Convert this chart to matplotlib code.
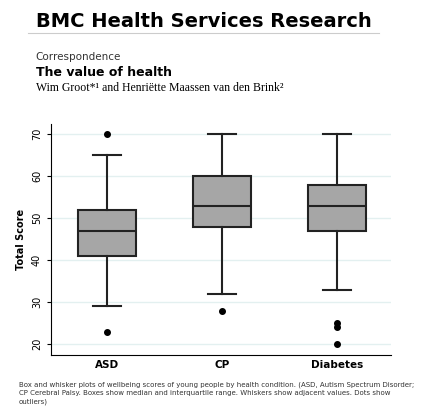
import matplotlib.pyplot as plt

groups = ['ASD', 'CP', 'Diabetes']
q1 = [41, 48, 47]
medians = [47, 53, 53]
q3 = [52, 60, 58]
whisker_lo = [29, 32, 33]
whisker_hi = [65, 70, 70]
outliers = [[70, 23], [28], [25, 24, 20]]

stats = []
for i, g in enumerate(groups):
    stats.append(dict(label=g, q1=q1[i], med=medians[i], q3=q3[i],
                      whislo=whisker_lo[i], whishi=whisker_hi[i], fliers=outliers[i]))

fig = plt.figure(figsize=(4.21, 4.12), dpi=100)
fig.text(0.085, 0.935, 'BMC Health Services Research', fontsize=14, fontweight='heavy')
fig.add_artist(plt.Line2D([0.067, 0.9], [0.92, 0.92], color='#cccccc', lw=0.8))
fig.text(0.085, 0.855, 'Correspondence', fontsize=7.5, color='#333333')
fig.text(0.085, 0.815, 'The value of health', fontsize=9, fontweight='bold')
fig.text(0.085, 0.78, 'Wim Groot*¹ and Henriëtte Maassen van den Brink²',
         fontsize=8.5, family='Liberation Serif')

ax = fig.add_axes([0.121, 0.138, 0.808, 0.561])
ax.bxp(stats, positions=[1, 2, 3], widths=0.5, patch_artist=True,
       boxprops=dict(facecolor='#a6a6a6', edgecolor='#222222', lw=1.5),
       medianprops=dict(color='#222222', lw=1.5),
       whiskerprops=dict(color='#222222', lw=1.5),
       capprops=dict(color='#222222', lw=1.5),
       flierprops=dict(marker='o', markerfacecolor='black', markeredgecolor='black', markersize=4))
ax.set_xlim(0.513, 3.47)
ax.set_ylim(17.4, 72.4)
ax.set_yticks([20, 30, 40, 50, 60, 70])
ax.set_yticklabels([20, 30, 40, 50, 60, 70], rotation=90, va='center', fontsize=7)
ax.set_xticklabels(groups, fontsize=7.5, fontweight='bold')
ax.set_ylabel('Total Score', fontsize=7, fontweight='bold')
ax.yaxis.grid(True, color='#e3f0f0', lw=1)
ax.set_axisbelow(True)
for s in ['top', 'right']:
    ax.spines[s].set_visible(False)
ax.tick_params(axis='x', length=0)
ax.tick_params(axis='y', length=3)

fig.text(0.045, 0.02, 'Box and whisker plots of wellbeing scores of young people by health condition. (ASD, Autism Spectrum Disorder;\n'
         'CP Cerebral Palsy. Boxes show median and interquartile range. Whiskers show adjacent values. Dots show\noutliers)',
         fontsize=5, color='#333333', linespacing=1.5)

fig.savefig('out.png', dpi=100)
